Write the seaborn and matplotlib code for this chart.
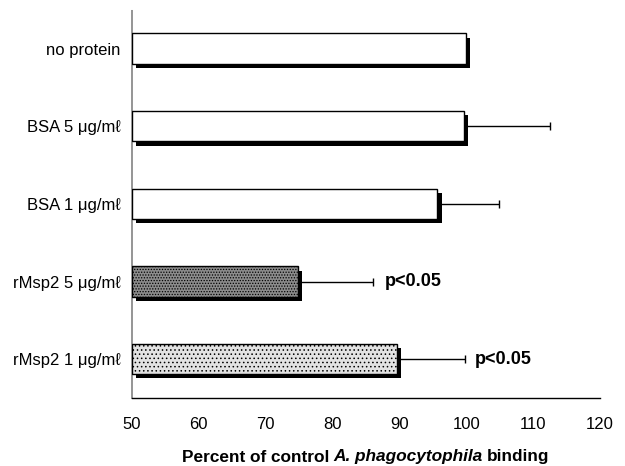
import matplotlib
matplotlib.use("Agg")
import matplotlib.pyplot as plt
import matplotlib.patheffects as pe
import seaborn as sns
import pandas as pd
import numpy as np

categories = ["no protein", "BSA 5 μg/mℓ", "BSA 1 μg/mℓ", "rMsp2 5 μg/mℓ", "rMsp2 1 μg/mℓ"]
values = [100.0, 99.6, 95.7, 74.8, 89.6]
err_upper = [0.0, 12.9, 9.2, 11.2, 10.2]
fills = ["white", "white", "white", "#8c8c8c", "#e2e2e2"]
hatches = ["", "", "", "......", "...."]
annot_text = ["", "", "", "p<0.05", "p<0.05"]
annot_x = [None, None, None, 87.8, 101.3]
xticks = [50, 60, 70, 80, 90, 100, 110, 120]

sns.set_theme(style="white")
plt.rcParams['font.family'] = ['Liberation Sans', 'DejaVu Sans']
plt.rcParams['text.color'] = 'black'
plt.rcParams['xtick.color'] = 'black'
plt.rcParams['ytick.color'] = 'black'
plt.rcParams['axes.labelcolor'] = 'black'
plt.rcParams['hatch.color'] = '#444444'
plt.rcParams['hatch.linewidth'] = 0.6

df = pd.DataFrame({"category": categories, "value": values})

fig = plt.figure(figsize=(6.25, 4.66), dpi=100)
ax = fig.add_axes([0.211, 0.146, 0.749, 0.833])

sns.barplot(data=df, x="value", y="category", orient="h", width=0.39,
            color="white", edgecolor="black", linewidth=1.0, ax=ax, errorbar=None,
            zorder=3)

for patch, fc, h in zip(ax.patches, fills, hatches):
    w = patch.get_width()
    patch.set_x(50)
    patch.set_width(w - 50)
    patch.set_facecolor(fc)
    patch.set_hatch(h)
    patch.set_path_effects([pe.SimplePatchShadow(offset=(3, -3), shadow_rgbFace="black", alpha=1.0), pe.Normal()])

ypos = np.arange(len(categories))
ax.errorbar(values, ypos, xerr=[np.zeros(len(values)), err_upper], fmt="none",
            ecolor="black", elinewidth=1.0, capsize=3, capthick=1.0, zorder=2)

for i, (t, xv) in enumerate(zip(annot_text, annot_x)):
    if t:
        ax.text(xv, i, t, fontsize=13, fontweight="bold", va="center", ha="left", color="black")

ax.set_xlim(50, 120)
ax.set_ylim(4.5, -0.5)
ax.set_xticks(xticks)
ax.tick_params(axis="x", labelsize=12, length=0, pad=14, colors="black")
ax.tick_params(axis="y", labelsize=12, length=0, pad=8, colors="black")
ax.set_ylabel("")
ax.set_xlabel("")

sns.despine(ax=ax, top=True, right=True)
ax.spines["left"].set_color("#888888")
ax.spines["left"].set_linestyle((0, (1, 1)))
ax.spines["bottom"].set_color("black")
ax.spines["bottom"].set_linewidth(1.0)

# x label with bold italic species name
ypix = 466 - 457
fs = 12.4
t1 = fig.text(182 / 625.0, ypix / 466.0, "Percent of control", fontsize=fs,
              fontweight="bold", va="center", ha="left")
t2 = ax.annotate("A. phagocytophila", xy=(1, 0.5), xycoords=t1, xytext=(3.0, 0),
                 textcoords="offset points", fontsize=fs, fontweight="bold",
                 style="italic", va="center", ha="left", annotation_clip=False)
t3 = ax.annotate("binding", xy=(1, 0.5), xycoords=t2, xytext=(3.0, 0),
                 textcoords="offset points", fontsize=fs, fontweight="bold",
                 va="center", ha="left", annotation_clip=False)

fig.savefig("out.png", dpi=100, facecolor="white")
